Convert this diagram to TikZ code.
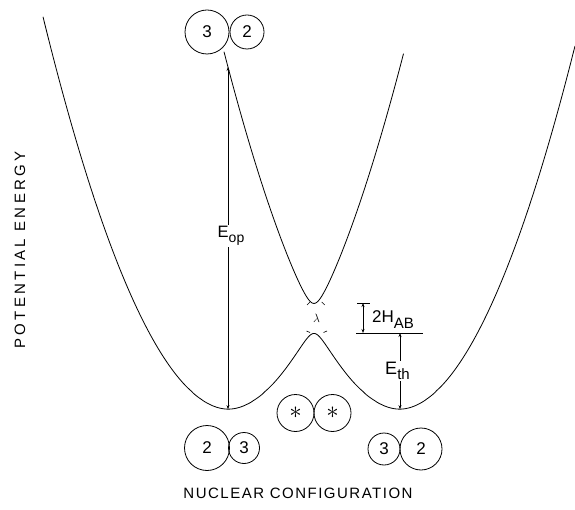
\documentclass[tikz,border=0pt]{standalone}
\usepackage{fontspec}
\usetikzlibrary{arrows.meta}
\newfontfamily\labfont{Liberation Sans}
\newfontfamily\potfont[LetterSpace=22]{Liberation Sans}
\newfontfamily\nucfont[LetterSpace=10]{Liberation Sans}
\newcommand\mysubl[4]{{\fontsize{#1}{#1}\selectfont #2}\raisebox{-5.5pt}{\fontsize{#3}{#3}\selectfont #4}}
\begin{document}
\begin{tikzpicture}[x=1pt,y=-1pt,
  declare function={
    Lf(\x)=120.3*pow(((\x-228)/100)*((\x-228)/100)+0.0001,0.96);
    Rf(\x)=120.3*pow(((\x-400)/100)*((\x-400)/100)+0.0001,0.96)*(1+0.03*(\x>400));
    Em(\x)=(Lf(\x)+Rf(\x))/2-10*sqrt(((Lf(\x)-Rf(\x))/20)*((Lf(\x)-Rf(\x))/20)+2.25);
    Ep(\x)=(Lf(\x)+Rf(\x))/2+10*sqrt(((Lf(\x)-Rf(\x))/20)*((Lf(\x)-Rf(\x))/20)+2.25);
  },
  curve/.style={line width=0.8pt,line join=round},
  atom/.style={circle,draw,line width=0.8pt,inner sep=0pt,font=\labfont\fontsize{17}{17}\selectfont},
  dim/.style={line width=0.55pt,{Stealth[length=4pt,width=3pt]}-{Stealth[length=4pt,width=3pt]}},
  lab/.style={font=\labfont,inner sep=1pt},
  barb/.style={line width=0.6pt}
]
\useasboundingbox (0,0) rectangle (575,510);

% potential energy surfaces
\draw[curve] plot[domain=43:575,samples=320] (\x,{408.5-Em(\x)});
\draw[curve] plot[domain=224:403.5,samples=220] (\x,{408.5-Ep(\x)});

% small marks at the avoided crossing
\draw[barb] (310,302) -- (307,305);
\draw[barb] (321.7,302) -- (324.7,305);
\draw[barb] (310,332.5) -- (306.5,331);
\draw[barb] (323.5,332.5) -- (327,331);
\node[inner sep=0pt,font=\fontsize{12}{12}\selectfont] (lam) at (316.5,318.5) {$\lambda$};

% key coordinates
\coordinate (opTop) at (228,{408.5-Ep(228)});
\coordinate (opBot) at (228,{408.5-Em(228)});
\coordinate (thBot) at (400,{408.5-Em(400)});
\coordinate (thTop) at (400,333);
\coordinate (lvL) at (356,333);
\coordinate (lvR) at (423,333);
\coordinate (hTop) at (363,303);
\coordinate (hBot) at (363,333);
\coordinate (barL) at (357,303);
\coordinate (barR) at (370,303);

% E_op
\draw[dim] (opTop) -- (opBot);
\node[lab,fill=white] (eop) at (231,236) {\mysubl{16.5}{E}{14}{op}};

% 2H_AB
\draw[line width=0.8pt] (lvL) -- (lvR);
\draw[line width=0.7pt] (barL) -- (barR);
\draw[dim] (hTop) -- (hBot);
\node[lab,anchor=base west] (hab) at (371,323) {\mysubl{17}{2H}{15}{AB}};

% E_th
\draw[dim] (thTop) -- (thBot);
\node[lab,fill=white] (eth) at (397.5,371) {\mysubl{18}{E}{15}{th}};

% atoms
\node[atom,minimum size=44pt] (t3) at (207,32) {3};
\node[atom,minimum size=34pt] (t2) at (247,32) {2};
\node[atom,minimum size=45pt] (l2) at (207,448) {2};
\node[atom,minimum size=31pt] (l3) at (244,448) {3};
\node[atom,minimum size=37pt,font=\fontsize{26}{26}\selectfont] (m1) at (295.5,413) {$\ast$};
\node[atom,minimum size=37pt,font=\fontsize{26}{26}\selectfont] (m2) at (332.5,413) {$\ast$};
\node[atom,minimum size=32pt] (r3) at (384,449) {3};
\node[atom,minimum size=42pt] (r2) at (421,449) {2};

% axis labels
\node[rotate=90,inner sep=0pt,font=\potfont\fontsize{15}{15}\selectfont] (pe) at (20,250) {POTENTIAL ENERGY};
\node[inner sep=0pt,font=\nucfont\fontsize{15}{15}\selectfont] (nc) at (298,493) {NUCLEAR CONFIGURATION};
\end{tikzpicture}
\end{document}
